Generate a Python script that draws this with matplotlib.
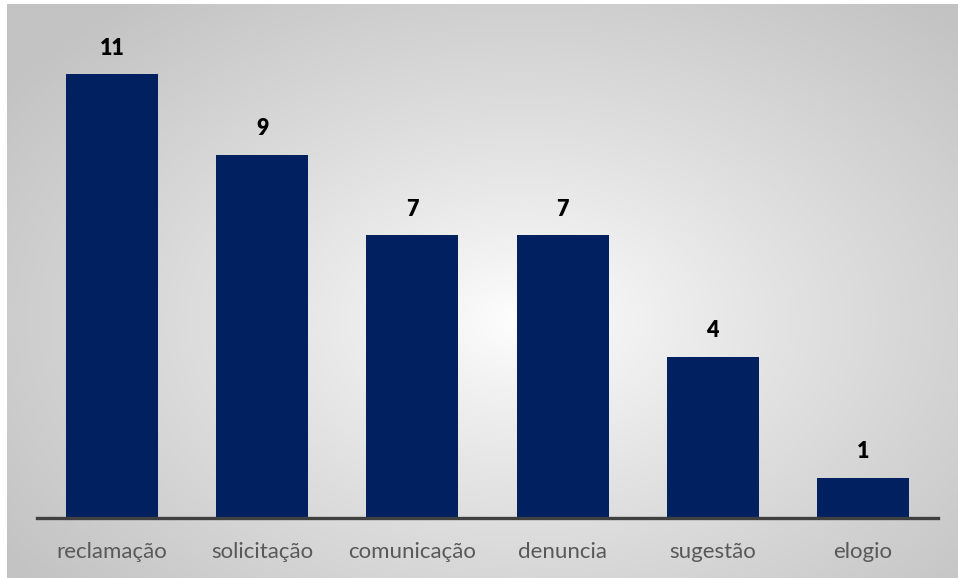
import numpy as np
import matplotlib.pyplot as plt

categorias = ['reclamação', 'solicitação', 'comunicação', 'denuncia', 'sugestão', 'elogio']
valores = [11, 9, 7, 7, 4, 1]

W, H = 958, 578
fig = plt.figure(figsize=(W / 100, H / 100), dpi=100)
fig.patch.set_facecolor('white')

# fundo com gradiente radial (branco no centro, cinza nas bordas)
bg = fig.add_axes([7 / W, 0, 951 / W, 574 / H])
bg.set_axis_off()
ny, nx = 300, 500
yy, xx = np.mgrid[0:ny, 0:nx]
cx, cy = 0.54 * nx, 0.55 * ny
r = np.sqrt(((xx - cx) / (0.55 * nx)) ** 2 + ((yy - cy) / (0.60 * ny)) ** 2)
g = 255 - 60 * np.clip(r / 1.2, 0, 1) ** 0.85
img = np.dstack([g, g, g]) / 255
bg.imshow(img, aspect='auto', extent=[0, 1, 0, 1], interpolation='bilinear')

ax = fig.add_axes([37 / W, (H - 518) / H, 901 / W, (518 - 30) / H])
ax.patch.set_alpha(0)
x = np.arange(len(categorias))
bars = ax.bar(x, valores, width=0.613, color='#002060')

for xi, v in zip(x, valores):
    ax.text(xi, v + 0.38, str(v), ha='center', va='bottom',
            fontsize=15.5, fontweight='heavy', color='black', family='Lato')

ax.set_xlim(-0.5, len(categorias) - 0.5)
ax.set_ylim(0, 12.09)
ax.set_yticks([])
ax.set_xticks(x)
ax.set_xticklabels(categorias, fontsize=16, color='#595959', family='Lato')
ax.tick_params(axis='x', length=0, pad=17)
for s in ['top', 'right', 'left']:
    ax.spines[s].set_visible(False)
ax.spines['bottom'].set_color('#404040')
ax.spines['bottom'].set_linewidth(2.4)

fig.savefig('out.png', dpi=100)
